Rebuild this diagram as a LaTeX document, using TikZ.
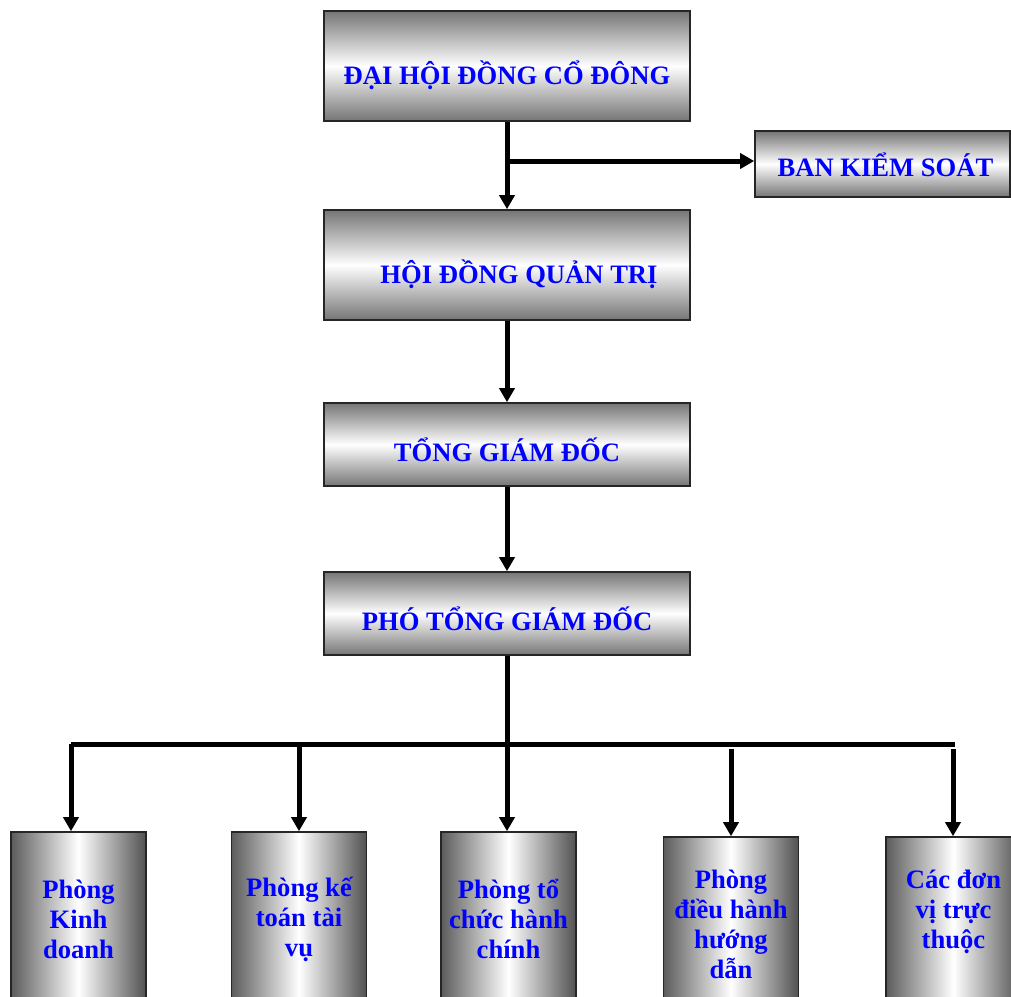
\documentclass[tikz,border=0pt]{standalone}
\usepackage{fontspec}
\setmainfont{Liberation Serif}
\usetikzlibrary{arrows.meta}
\newcommand{\lowered}[2]{\raisebox{-#1}[\height][\depth]{#2}}
\begin{document}
\begin{tikzpicture}[x=1pt,y=1pt,
  txt/.style={font=\fontsize{26.6}{30}\selectfont\bfseries, text=blue},
  hbox/.style={txt, draw=black!85, line width=1.6pt, inner sep=0pt,
    top color=black!54, bottom color=black!54, middle color=white},
  vbox/.style={txt, draw=black!85, line width=1.6pt, inner sep=0pt, align=center,
    minimum width=135pt, minimum height=174pt,
    left color=black!64, right color=black!68, middle color=white},
  conn/.style={line width=5pt},
  arr/.style={conn, -{Triangle[width=15pt,length=14pt]}}]
\clip (0,0) rectangle (1011,-996);
\fill[white] (0,0) rectangle (1011,-996);
% boxes
\node[hbox, minimum width=366pt, minimum height=110pt] (dhd) at (507,-66) {\lowered{9pt}{ĐẠI HỘI ĐỒNG CỔ ĐÔNG}};
\node[hbox, minimum width=255pt, minimum height=66pt] (bks) at (882.5,-164) {\lowered{1pt}{\hspace*{6pt}BAN KIỂM SOÁT}};
\node[hbox, minimum width=366pt, minimum height=110pt] (hdqt) at (507,-265) {\lowered{9pt}{\hspace*{24pt}HỘI ĐỒNG QUẢN TRỊ}};
\node[hbox, minimum width=366pt, minimum height=83pt] (tgd) at (507,-444.5) {\lowered{5pt}{TỔNG GIÁM ĐỐC}};
\node[hbox, minimum width=366pt, minimum height=83pt] (ptgd) at (507,-613.5) {\lowered{5pt}{PHÓ TỔNG GIÁM ĐỐC}};
\node[vbox] (b1) at (78.5,-919) {Phòng\\Kinh\\doanh};
\node[vbox] (b2) at (299,-919) {Phòng kế\\toán tài\\vụ};
\node[vbox] (b3) at (508.5,-919) {Phòng tổ\\chức hành\\chính};
\node[vbox] (b4) at (731,-924) {Phòng\\điều hành\\hướng\\dẫn};
\node[vbox] (b5) at (953.5,-924) {Các đơn\\vị trực\\thuộc\\\mbox{}};
% connectors
\coordinate (br) at (507,-161);
\draw[arr] (dhd.south) -- (hdqt.north);
\draw[arr] (br) -- (br -| bks.west);
\draw[arr] (hdqt.south) -- (tgd.north);
\draw[arr] (tgd.south) -- (ptgd.north);
\coordinate (barL) at (71,-744);
\coordinate (barR) at (955,-744);
\draw[conn] (barR) -- (barL);
\draw[arr] (barL) -- (barL |- b1.north);
\draw[arr] (ptgd.south) -- (ptgd.south |- b3.north);
\draw[arr] (b2.north |- barL) -- (b2.north);
\coordinate (s4) at (731,-749);
\coordinate (s5) at (953,-749);
\draw[arr] (s4) -- (s4 |- b4.north);
\draw[arr] (s5) -- (s5 |- b5.north);
\end{tikzpicture}
\end{document}
